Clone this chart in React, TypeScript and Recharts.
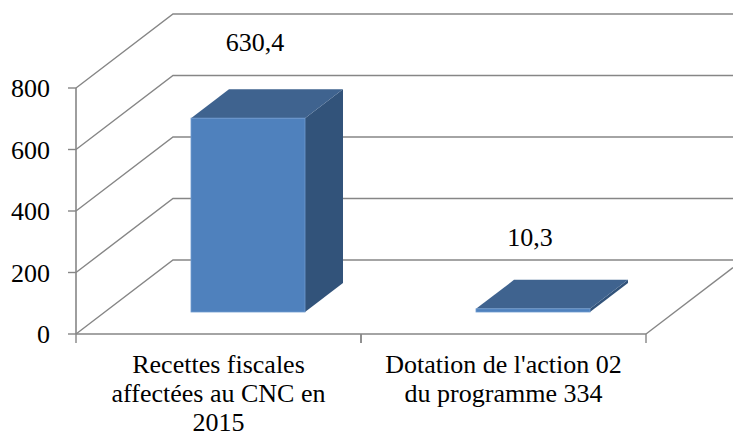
import React from "react";
import { BarChart, Bar, XAxis, YAxis, CartesianGrid, LabelList } from "recharts";

const categories = ["Recettes fiscales affectées au CNC en 2015", "Dotation de l'action 02 du programme 334"];
const categoryLines = [
  ["Recettes fiscales", "affectées au CNC en", "2015"],
  ["Dotation de l'action 02", "du programme 334"],
];
const values = [630.4, 10.3];
const yTicks = [0, 200, 400, 600, 800];
const labelNudge = [7, -3];
const labelLift = [67, 63];

const data = categories.map((name, i) => ({ name, value: values[i] }));

const W = 733, H = 432;
const AXIS_H = 98;
const M = { top: 88, right: 87, bottom: 0, left: 0 };
const AXIS_W = 76;
const BAND = (W - M.right - AXIS_W) / categories.length;
const WALL_DX = 97, WALL_DY = 74;
const SLIDE_DX = 29.5, SLIDE_DY = 22;
const DEPTH_DX = 38, DEPTH_DY = 29;
const LINE = "#868686";
const FONT = "'Liberation Serif', serif";
const FS = 26;

function GridLine(p: any) {
  const { x1, x2, y1 } = p;
  const isFloor = Math.abs(y1 - (H - AXIS_H)) < 1;
  return (
    <g key={`g-${y1}`} fill="none" stroke={LINE} strokeWidth={1.4}>
      <polyline points={`${x1},${y1} ${x1 + WALL_DX},${y1 - WALL_DY} ${W},${y1 - WALL_DY}`} />
      {isFloor && <line x1={x2} y1={y1} x2={W} y2={y1 - ((W - x2) * WALL_DY) / WALL_DX} />}
    </g>
  );
}

function Box(p: any) {
  const x = p.x + SLIDE_DX, w = p.width, y = p.y - SLIDE_DY, h = p.height;
  const dx = DEPTH_DX, dy = DEPTH_DY;
  return (
    <g>
      <polygon points={`${x + w},${y} ${x + w + dx},${y - dy} ${x + w + dx},${y + h - dy} ${x + w},${y + h}`} fill="#32537A" />
      <polygon points={`${x},${y} ${x + dx},${y - dy} ${x + w + dx},${y - dy} ${x + w},${y}`} fill="#3F638F" />
      <rect x={x} y={y} width={w} height={h} fill="#4F81BD" stroke="#6F9BD0" strokeWidth={0.8} />
    </g>
  );
}

function ValueLabel(p: any) {
  const cx = p.x + p.width / 2 + SLIDE_DX + labelNudge[p.index];
  return (
    <text x={cx} y={p.y - SLIDE_DY - labelLift[p.index]} textAnchor="middle" fontFamily={FONT} fontSize={FS} fill="#000">
      {Number(p.value).toFixed(1).replace(".", ",")}
    </text>
  );
}

function CategoryTick(p: any) {
  const { x, y, index, payload } = p;
  const lines = categoryLines[index] ?? [payload.value];
  const left = x - BAND / 2, right = x + BAND / 2;
  return (
    <g>
      <line x1={left} y1={y} x2={left} y2={y + 9} stroke={LINE} strokeWidth={1.4} />
      <line x1={right} y1={y} x2={right} y2={y + 9} stroke={LINE} strokeWidth={1.4} />
      <text textAnchor="middle" fontFamily={FONT} fontSize={FS} fill="#000">
        {lines.map((l: string, i: number) => (
          <tspan key={i} x={x} y={y + 39 + i * 29}>{l}</tspan>
        ))}
      </text>
    </g>
  );
}

export default function App() {
  return (
    <div style={{ position: "absolute", left: 0, top: 0, width: W, height: H, overflow: "hidden", background: "#fff" }}>
      <BarChart width={W} height={H} data={data} margin={M} barCategoryGap="30%">
        <CartesianGrid vertical={false} horizontal={GridLine as any} syncWithTicks />
        <XAxis
          dataKey="name"
          height={AXIS_H}
          interval={0}
          tick={CategoryTick as any}
          tickLine={false}
          tickMargin={0}
          tickSize={0}
          axisLine={{ stroke: LINE, strokeWidth: 1.6 }}
        />
        <YAxis
          width={AXIS_W}
          domain={[0, 800]}
          ticks={yTicks}
          interval={0}
          tickSize={8}
          tickMargin={18}
          tickLine={{ stroke: LINE, strokeWidth: 1.4 }}
          axisLine={{ stroke: LINE, strokeWidth: 1.6 }}
          tick={{ fontFamily: FONT, fontSize: FS, fill: "#000" }}
        />
        <Bar dataKey="value" isAnimationActive={false} shape={Box as any}>
          <LabelList dataKey="value" content={ValueLabel as any} />
        </Bar>
      </BarChart>
    </div>
  );
}
